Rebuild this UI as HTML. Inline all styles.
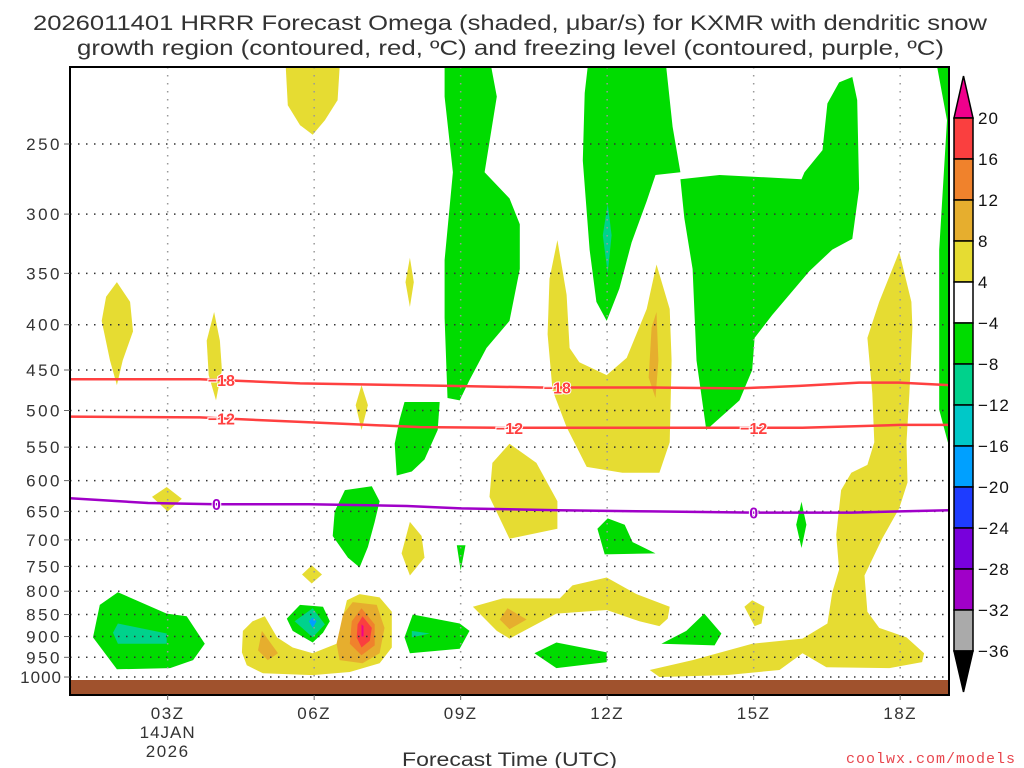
<!DOCTYPE html>
<html><head><meta charset="utf-8"><style>
html,body{margin:0;padding:0;background:#fff;}
svg{display:block;font-family:"Liberation Sans",sans-serif;}
</style></head><body>
<svg id="chart" width="1024" height="768" viewBox="0 0 1024 768" xmlns="http://www.w3.org/2000/svg">
<text x="33" y="30" font-size="21" fill="#333" textLength="954" lengthAdjust="spacingAndGlyphs">2026011401 HRRR Forecast Omega (shaded, μbar/s) for KXMR with dendritic snow</text>
<text x="77" y="55" font-size="21" fill="#333" textLength="867" lengthAdjust="spacingAndGlyphs">growth region (contoured, red, ºC) and freezing level (contoured, purple, ºC)</text>
<g id="plot"></g>
<g id="axes"></g>
<g id="cbar"></g>
<text x="402" y="766" font-size="19" fill="#333" textLength="215" lengthAdjust="spacingAndGlyphs">Forecast Time (UTC)</text>
<text x="1016" y="763" text-anchor="end" font-size="15" fill="#e8464e" letter-spacing="1" font-family="Liberation Mono, monospace">coolwx.com/models</text>
</svg>
<script>
// ---- data ----
const pressureTicks = [250,300,350,400,450,500,550,600,650,700,750,800,850,900,950,1000];
const hourTicks = [3,6,9,12,15,18];
const hourTickLabels = ["03Z","06Z","09Z","12Z","15Z","18Z"];
const levelColors = {"y":"#e6dc32","g":"#e6ae2e","o":"#f0822c","r":"#fa3f3f","m":"#f0008c","G":"#00dc00","T":"#00d28c","C":"#00c8c8","B":"#00a0ff"};
const cbarLabels = ["20","16","12","8","4","-4","-8","-12","-16","-20","-24","-28","-32","-36"];
const cbarColors = ["#fa3f3f","#f0822c","#e6ae2e","#e6dc32","#ffffff","#00dc00","#00d28c","#00c8c8","#00a0ff","#1e3cff","#7800dc","#a000c8","#aaaaaa"];
const omegaYellow = [
 [[5.42,205],[6.52,205],[6.48,223],[6.22,235],[5.97,244],[5.71,238],[5.46,226]],
 [[1.96,358],[2.23,377],[2.29,407],[2.08,439],[1.96,468],[1.82,439],[1.65,396],[1.74,372]],
 [[3.95,387],[4.07,417],[4.11,450],[3.99,487],[3.84,456],[3.8,417]],
 [[7.96,336],[8.04,358],[7.96,382],[7.87,358]],
 [[6.97,468],[7.1,493],[6.97,526],[6.85,493]],
 [[2.98,610],[3.29,629],[3.0,650],[2.68,626]],
 [[7.96,668],[8.2,693],[8.26,733],[7.96,768],[7.79,725]],
 [[5.95,748],[6.16,766],[5.95,784],[5.75,766]],
 [[10.98,321],[11.17,370],[11.23,425],[11.43,441],[11.99,456],[12.4,436],[12.81,384],[13.01,342],[13.28,384],[13.32,439],[13.28,543],[13.07,588],[12.31,588],[11.58,579],[11.17,522],[10.88,474],[10.78,410],[10.82,355]],
 [[10.0,545],[10.55,573],[10.98,633],[10.98,680],[10.0,698],[9.59,626],[9.65,573]],
 [[9.25,833],[9.86,815],[11.03,815],[11.29,788],[11.99,772],[12.6,806],[13.28,833],[13.24,859],[13.07,876],[12.66,865],[11.99,840],[10.96,848],[10.0,905],[9.74,887]],
 [[14.97,819],[15.22,833],[15.16,870],[15.02,876],[14.81,833]],
 [[17.98,331],[18.23,377],[18.25,403],[18.19,478],[18.13,543],[18.15,603],[17.98,645],[17.63,698],[17.27,768],[17.33,844],[17.57,880],[18.13,902],[18.49,940],[18.45,962],[17.78,977],[16.49,975],[16.0,940],[15.53,982],[14.44,995],[13.07,1000],[12.87,982],[13.75,957],[14.97,917],[16.0,905],[16.51,870],[16.61,802],[16.75,756],[16.69,691],[16.79,615],[17.0,588],[17.33,576],[17.47,543],[17.43,478],[17.33,414],[17.57,377]],
 [[4.99,854],[5.24,902],[5.56,926],[5.97,940],[6.46,917],[6.67,819],[6.93,806],[7.34,813],[7.59,844],[7.59,926],[7.34,965],[6.73,987],[5.97,995],[4.95,990],[4.62,970],[4.52,938],[4.54,887],[4.74,865]]
];
const omegaGold = [
 [[13.01,387],[13.05,439],[12.99,484],[12.85,459],[12.91,403]],
 [[9.96,836],[10.35,861],[10.0,883],[9.8,861]],
 [[4.93,887],[5.26,940],[5.05,957],[4.85,933]],
 [[6.79,823],[7.28,829],[7.44,880],[7.34,940],[6.99,965],[6.52,957],[6.46,917],[6.59,850]]
];
const omegaOrange = [[[6.97,836],[7.24,872],[7.24,921],[6.97,945],[6.73,917],[6.77,865]]];
const omegaRed = [[[6.99,854],[7.18,880],[7.14,910],[6.97,926],[6.87,902],[6.89,872]]];
const omegaMagenta = [[[6.97,872],[7.01,876],[7.01,900],[6.97,900]]];
const omegaGreen = [
 [[8.67,205],[9.63,205],[9.74,221],[9.49,269],[10.0,288],[10.21,308],[10.21,346],[10.0,396],[9.53,425],[9.18,462],[8.98,487],[8.73,484],[8.67,393],[8.67,338],[8.84,269],[8.67,221]],
 [[11.6,205],[13.21,205],[13.34,239],[13.5,269],[12.99,271],[12.81,290],[12.5,323],[12.25,364],[11.99,396],[11.78,377],[11.64,329],[11.5,261],[11.54,219]],
 [[13.5,274],[14.3,271],[15.98,274],[16.04,269],[16.41,254],[16.51,225],[16.75,213],[17.02,210],[17.12,223],[17.16,281],[17.02,320],[16.61,329],[16.14,348],[15.38,390],[15.02,414],[14.97,450],[14.71,487],[14.03,526],[13.83,439],[13.75,346],[13.58,303]],
 [[18.76,205],[19,205],[19,549],[18.8,499],[18.8,329],[18.96,235]],
 [[7.85,489],[8.57,489],[8.53,526],[8.26,568],[8.0,586],[7.69,592],[7.65,545],[7.75,512]],
 [[6.63,615],[7.18,609],[7.34,633],[7.24,668],[7.1,713],[6.93,752],[6.69,733],[6.38,693],[6.42,650]],
 [[8.92,710],[9.1,710],[9.0,758]],
 [[12.01,662],[12.36,673],[12.52,704],[12.99,725],[11.95,727],[11.8,680]],
 [[15.98,634],[16.08,673],[15.98,715],[15.87,673]],
 [[13.99,848],[14.34,893],[14.2,921],[13.11,917],[13.62,887]],
 [[10.96,914],[11.99,938],[11.99,962],[10.96,977],[10.51,940]],
 [[1.98,802],[2.98,848],[3.39,854],[3.76,917],[3.52,957],[3.05,977],[1.96,980],[1.47,902],[1.61,829]],
 [[5.71,829],[6.18,833],[6.32,865],[6.18,891],[5.97,914],[5.56,887],[5.44,859]],
 [[8.02,850],[8.98,870],[9.18,887],[8.98,929],[7.96,940],[7.85,902]]
];
const omegaTealGreen = [
 [[12.01,292],[12.09,317],[12.01,350],[11.91,317]],
 [[1.98,870],[2.98,893],[2.98,917],[1.98,917],[1.88,891]],
 [[5.97,836],[6.22,872],[5.97,902],[5.6,865]],
 [[8.0,887],[8.37,893],[8.0,902]]
];
const omegaBlue = [[[5.97,856],[6.05,865],[5.97,880],[5.89,865]]];
const isoM18 = [[1,461],[3.66,461],[5.71,466],[8.78,469],[10.62,471],[12.87,471],[14.71,472],[15.94,469],[17.16,465],[17.98,465],[19,468]];
const isoM12 = [[1,508],[3.66,509],[5.71,515],[8.17,522],[9.8,523],[12,523],[14,523],[16,523],[18,519],[19,519]];
const iso0 = [[1,628],[2.6,636],[4,638],[5.9,638],[7.9,641],[9,645],[11,648],[12.9,650],[15,652],[17,652],[19,648]];
const isoM18Labels = [4.1,10.98];
const isoM12Labels = [4.1,10.0,15.0];
const iso0Labels = [4.0,15.0];

const X0=70,X1=949,Y0=67,Y1=695;
const H0=1,H1=19;
function xs(h){return X0+(h-H0)*(X1-X0)/(H1-H0);}
function ys(p){return 144+384.5*Math.log(p/250);}
const NS="http://www.w3.org/2000/svg";
function mk(tag,attrs,parent){const e=document.createElementNS(NS,tag);for(const k in attrs)e.setAttribute(k,attrs[k]);parent.appendChild(e);return e;}
const plot=document.getElementById('plot'), axes=document.getElementById('axes'), cbar=document.getElementById('cbar');
const defs=mk('defs',{},plot);
const cp=mk('clipPath',{id:'clip'},defs);
mk('rect',{x:X0,y:Y0,width:X1-X0,height:Y1-Y0},cp);
const g=mk('g',{'clip-path':'url(#clip)'},plot);


function pts(arr){return arr.map(d=>xs(d[0]).toFixed(1)+','+ys(d[1]).toFixed(1)).join(' ');}
function drawSet(set,color,name){
 set.forEach((poly,i)=>{
  const e=mk('polygon',{points:pts(poly),fill:color},g);
  
  
 });
}
drawSet(omegaYellow,levelColors.y,'omega-4-8');
drawSet(omegaGold,levelColors.g,'omega-8-12');
drawSet(omegaOrange,levelColors.o,'omega-12-16');
drawSet(omegaRed,levelColors.r,'omega-16-20');
drawSet(omegaMagenta,levelColors.m,'omega-above-20');
drawSet(omegaGreen,levelColors.G,'omega-neg4-neg8');
drawSet(omegaTealGreen,levelColors.T,'omega-neg8-neg12');
drawSet(omegaBlue,levelColors.B,'omega-neg16-neg20');
const gr=mk('rect',{x:X0,y:680,width:X1-X0,height:Y1-680,fill:'#a0522d'},g);


pressureTicks.forEach(p=>{
 const l=mk('line',{x1:X0,x2:X1,y1:ys(p),y2:ys(p),stroke:'#333','stroke-width':1.5,'stroke-dasharray':'1.5 6.5'},g);
 
 
});
hourTicks.forEach(h=>{
 const l=mk('line',{x1:xs(h),x2:xs(h),y1:Y0,y2:680,stroke:'#999','stroke-width':1.5,'stroke-dasharray':'1.5 6.5'},g);
 
 
});
function line(data,color,labels,txt,name){
 const path=mk('polyline',{points:pts(data),fill:'none',stroke:color,'stroke-width':2.5},g);
 
 
 labels.forEach((h,i)=>{
  let p=data[0][1];
  for(let k=0;k<data.length-1;k++){if(h>=data[k][0]&&h<=data[k+1][0]){const t=(h-data[k][0])/(data[k+1][0]-data[k][0]);p=data[k][1]+t*(data[k+1][1]-data[k][1]);}}
  const x=xs(h),y=ys(p);
  const t=mk('text',{x:x,y:y+6,'text-anchor':'middle','font-size':16,'font-weight':'bold',fill:color,stroke:'#fff','stroke-width':2,'paint-order':'stroke'},g);
  t.textContent=txt;
  
  
 });
}
line(isoM18,'#ff4040',isoM18Labels,'−18','isotherm-minus18');
line(isoM12,'#ff4040',isoM12Labels,'−12','isotherm-minus12');
line(iso0,'#a000c8',iso0Labels,'0','freezing-level');
const fr=mk('rect',{x:X0,y:Y0,width:X1-X0,height:Y1-Y0,fill:'none',stroke:'#000','stroke-width':2},axes);


pressureTicks.forEach(p=>{
 mk('line',{x1:X0-6,x2:X0,y1:ys(p),y2:ys(p),stroke:'#666','stroke-width':1},axes);
 const s=String(p);
 const t=mk('text',{x:X0-8,y:ys(p)+6,'text-anchor':'end','font-size':17,fill:'#333','letter-spacing':s.length>3?1:2.5},axes);
 t.textContent=s;
 
 
});
hourTicks.forEach((h,i)=>{
 mk('line',{x1:xs(h),x2:xs(h),y1:Y1,y2:Y1+5,stroke:'#666','stroke-width':1},axes);
 const t=mk('text',{x:xs(h),y:719,'text-anchor':'middle','font-size':17,fill:'#333','letter-spacing':1.5},axes);
 t.textContent=hourTickLabels[i];
 
 
});
const d1=mk('text',{x:xs(3),y:738,'text-anchor':'middle','font-size':17,fill:'#333','letter-spacing':1},axes);
d1.textContent='14JAN';


const d2=mk('text',{x:xs(3),y:757,'text-anchor':'middle','font-size':17,fill:'#333','letter-spacing':1.5},axes);
d2.textContent='2026';


const CBX=954,CBW=19,CBT=118,CBB=651,bh=(CBB-CBT)/cbarColors.length;
const tt=mk('polygon',{points:`${CBX},${CBT} ${CBX+CBW},${CBT} ${CBX+CBW/2},76`,fill:'#f0008c',stroke:'#000','stroke-width':1.5},cbar);


cbarColors.forEach((c,i)=>{
 const r=mk('rect',{x:CBX,y:CBT+i*bh,width:CBW,height:bh,fill:c,stroke:'#000','stroke-width':1.5},cbar);
 
 
});
const tb=mk('polygon',{points:`${CBX},${CBB} ${CBX+CBW},${CBB} ${CBX+CBW/2},692`,fill:'#000',stroke:'#000','stroke-width':1.5},cbar);


cbarLabels.forEach((s,i)=>{
 const t=mk('text',{x:978,y:CBT+i*bh+6,'font-size':17,fill:'#111','letter-spacing':1},cbar);
 t.textContent=s.replace('-','−');
 
 
});
</script>
</body></html>
